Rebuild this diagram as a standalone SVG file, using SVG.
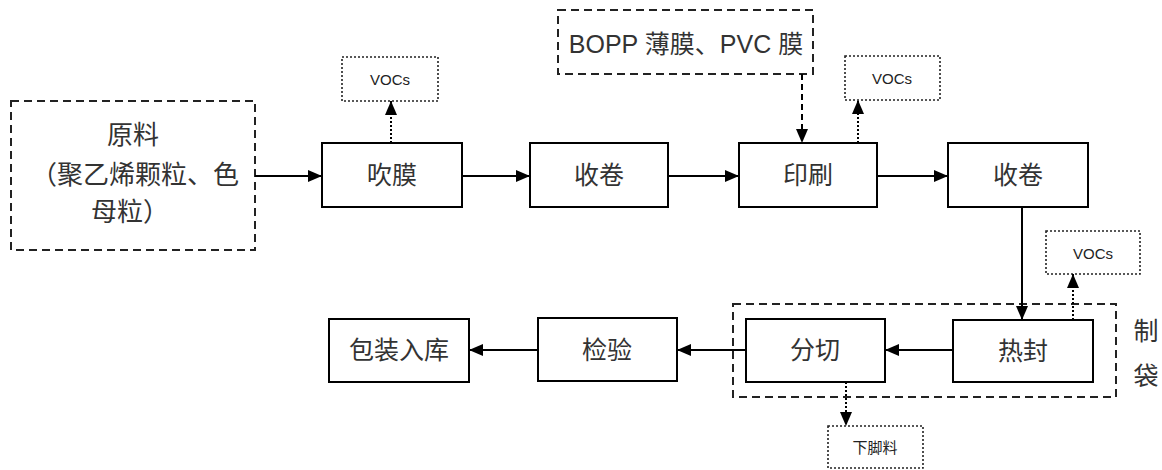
<svg xmlns="http://www.w3.org/2000/svg" width="1162" height="470" viewBox="0 0 1162 470">
<style>
.box{fill:#fff;stroke:#000;stroke-width:2}
.dash{fill:none;stroke:#222;stroke-width:2;stroke-dasharray:8 5}
.dot{fill:#fff;stroke:#222;stroke-width:1.6;stroke-dasharray:2 2}
.t{font-family:"Liberation Sans","Noto Sans CJK SC",sans-serif;font-size:25px;fill:#333;text-anchor:middle;dominant-baseline:central}
.r{font-size:26px}
.s{font-family:"Liberation Sans","Noto Sans CJK SC",sans-serif;font-size:15px;fill:#222;text-anchor:middle;dominant-baseline:central}
.c{fill:none;stroke:#000;stroke-width:2}
.cd{fill:none;stroke:#000;stroke-width:2;stroke-dasharray:6 4}
.co{fill:none;stroke:#000;stroke-width:2;stroke-dasharray:2 2}
</style>
<defs>
<marker id="ah" markerWidth="14" markerHeight="12" refX="14" refY="6" orient="auto" markerUnits="userSpaceOnUse">
<path d="M0,0 L14,6 L0,12 Z" fill="#000"/>
</marker>
</defs>
<rect width="1162" height="470" fill="#fff"/>

<g id="raw">
<rect class="dash" x="11" y="101" width="244" height="149"/>
<text class="t r" x="133" y="135">原料</text>
<text class="t r" x="135" y="175">（聚乙烯颗粒、色</text>
<text class="t r" x="130" y="212">母粒）</text>
</g>
<g id="film">
<rect class="dash" x="558" y="10" width="255" height="64"/>
<text class="t" x="686" y="44">BOPP 薄膜、PVC 膜</text>
</g>
<g id="blow">
<rect class="box" x="322" y="143" width="140" height="64"/>
<text class="t" x="392" y="175">吹膜</text>
</g>
<g id="voc1">
<rect class="dot" x="342" y="57" width="96" height="44"/>
<text class="s" x="390" y="79">VOCs</text>
</g>
<g id="wind1">
<rect class="box" x="530" y="143" width="138" height="64"/>
<text class="t" x="599" y="175">收卷</text>
</g>
<g id="print">
<rect class="box" x="739" y="143" width="138" height="64"/>
<text class="t" x="808" y="175">印刷</text>
</g>
<g id="voc2">
<rect class="dot" x="845" y="56" width="95" height="44"/>
<text class="s" x="892" y="78">VOCs</text>
</g>
<g id="wind2">
<rect class="box" x="948" y="143" width="140" height="64"/>
<text class="t" x="1018" y="175">收卷</text>
</g>
<g id="bag">
<rect class="dash" x="733" y="304" width="383" height="93"/>
<text class="t" x="1146" y="331">制</text>
<text class="t" x="1146" y="376">袋</text>
</g>
<g id="voc3">
<rect class="dot" x="1046" y="231" width="94" height="43"/>
<text class="s" x="1093" y="253">VOCs</text>
</g>
<g id="seal">
<rect class="box" x="953" y="320" width="140" height="62"/>
<text class="t" x="1023" y="351">热封</text>
</g>
<g id="cut">
<rect class="box" x="746" y="319" width="139" height="63"/>
<text class="t" x="815" y="350">分切</text>
</g>
<g id="scrap">
<rect class="dot" x="828" y="426" width="95" height="42"/>
<text class="s" x="875" y="447">下脚料</text>
</g>
<g id="inspect">
<rect class="box" x="538" y="318" width="139" height="63"/>
<text class="t" x="607" y="350">检验</text>
</g>
<g id="pack">
<rect class="box" x="329" y="319" width="140" height="63"/>
<text class="t" x="399" y="350">包装入库</text>
</g>

<g id="connectors">
<line class="c" x1="255" y1="176" x2="322" y2="176" marker-end="url(#ah)"/>
<line class="c" x1="462" y1="176" x2="530" y2="176" marker-end="url(#ah)"/>
<line class="c" x1="668" y1="176" x2="739" y2="176" marker-end="url(#ah)"/>
<line class="c" x1="877" y1="176" x2="948" y2="176" marker-end="url(#ah)"/>
<line class="co" x1="391" y1="143" x2="391" y2="101" marker-end="url(#ah)"/>
<line class="co" x1="858" y1="143" x2="858" y2="100" marker-end="url(#ah)"/>
<line class="cd" x1="802" y1="74" x2="802" y2="143" marker-end="url(#ah)"/>
<line class="c" x1="1022" y1="207" x2="1022" y2="320" marker-end="url(#ah)"/>
<line class="co" x1="1073" y1="320" x2="1073" y2="274" marker-end="url(#ah)"/>
<line class="c" x1="953" y1="350" x2="885" y2="350" marker-end="url(#ah)"/>
<line class="c" x1="746" y1="350" x2="677" y2="350" marker-end="url(#ah)"/>
<line class="c" x1="538" y1="350" x2="469" y2="350" marker-end="url(#ah)"/>
<line class="co" x1="846" y1="382" x2="846" y2="426" marker-end="url(#ah)"/>
</g>
</svg>
